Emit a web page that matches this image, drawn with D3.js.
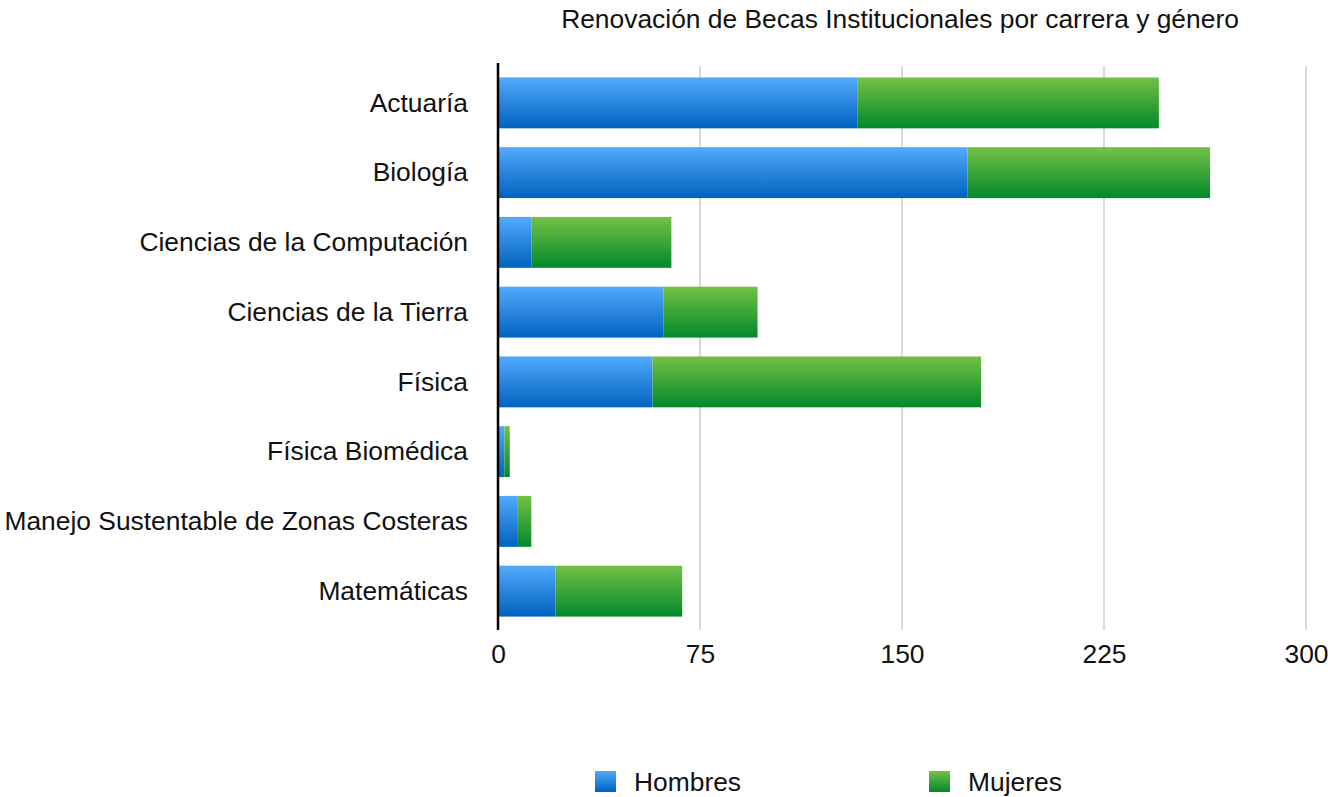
<!DOCTYPE html>
<html lang="en">
<head>
<meta charset="UTF-8">
<title>Renovación de Becas Institucionales</title>
<script src="https://d3js.org/d3.v7.min.js"></script>
<style>
  body { margin: 0; background: #fff; }
  text { font-family: "Liberation Sans", Arial, Helvetica, sans-serif; fill: #111; }
</style>
</head>
<body>
<script>
// data
var carreras = ["Actuaría", "Biología", "Ciencias de la Computación", "Ciencias de la Tierra",
  "Física", "Física Biomédica", "Manejo Sustentable de Zonas Costeras", "Matemáticas"];
var hombres = [133, 174, 12, 61, 57, 2, 7, 21];
var mujeres = [112, 90, 52, 35, 122, 2, 5, 47];
var series = ["Hombres", "Mujeres"];
var xTicks = [0, 75, 150, 225, 300];

var W = 1328, H = 797;
var margin = { top: 68, right: 22, bottom: 171, left: 498 };
var width = W - margin.left - margin.right;
var height = H - margin.top - margin.bottom;
var fontSize = "26.4px";

var svg = d3.select("body").append("svg")
  .attr("width", W).attr("height", H);

// gradients
var defs = svg.append("defs");
var grads = [
  { id: "g-h", top: "#52aafb", bottom: "#0062c1" },
  { id: "g-m", top: "#74c145", bottom: "#02892c" }
];
grads.forEach(function (g) {
  var lg = defs.append("linearGradient").attr("id", g.id)
    .attr("x1", 0).attr("y1", 0).attr("x2", 0).attr("y2", 1);
  lg.append("stop").attr("offset", "0%").attr("stop-color", g.top);
  lg.append("stop").attr("offset", "100%").attr("stop-color", g.bottom);
});

var g = svg.append("g").attr("transform", "translate(" + margin.left + "," + margin.top + ")");

var x = d3.scaleLinear().domain([0, 300]).range([0, 808]);
var y = d3.scaleBand().domain(carreras).range([0, height]).paddingInner(0.27).paddingOuter(0.135);

// title
svg.append("text")
  .attr("x", 900).attr("y", 28)
  .attr("text-anchor", "middle")
  .style("font-size", fontSize)
  .text("Renovación de Becas Institucionales por carrera y género");

// grid lines
g.selectAll(".grid").data(xTicks.slice(1)).enter().append("line")
  .attr("x1", d => x(d)).attr("x2", d => x(d))
  .attr("y1", -2).attr("y2", height + 4)
  .attr("stroke", "#d9d9d9").attr("stroke-width", 2);

// stacked data
var rows = carreras.map(function (c, i) { return { carrera: c, Hombres: hombres[i], Mujeres: mujeres[i] }; });
var stack = d3.stack().keys(series)(rows);
var fills = { Hombres: "url(#g-h)", Mujeres: "url(#g-m)" };

g.selectAll(".serie").data(stack).enter().append("g")
  .attr("fill", d => fills[d.key])
  .selectAll("rect").data(d => d).enter().append("rect")
  .attr("x", d => x(d[0]) + 1)
  .attr("y", d => y(d.data.carrera))
  .attr("width", d => x(d[1]) - x(d[0]))
  .attr("height", y.bandwidth());

// y axis line
g.append("line")
  .attr("x1", 0).attr("x2", 0).attr("y1", -5).attr("y2", height + 4)
  .attr("stroke", "#000").attr("stroke-width", 2.5);

// category labels
g.selectAll(".cat").data(carreras).enter().append("text")
  .attr("x", -30)
  .attr("y", d => y(d) + y.bandwidth() / 2)
  .attr("dy", "0.33em")
  .attr("text-anchor", "end")
  .style("font-size", fontSize)
  .text(d => d);

// x tick labels
var xAxis = g.append("g").attr("transform", "translate(0," + height + ")")
  .call(d3.axisBottom(x).tickValues(xTicks).tickSize(0).tickPadding(18).tickFormat(d3.format("d")));
xAxis.select(".domain").remove();
xAxis.selectAll("text").style("font-size", fontSize).attr("fill", "#111")
  .style("font-family", "\"Liberation Sans\", Arial, sans-serif");

// legend
var legend = svg.selectAll(".legend").data(series).enter().append("g")
  .attr("transform", (d, i) => "translate(" + (595 + i * 334) + ",771)");
legend.append("rect").attr("width", 21).attr("height", 21)
  .attr("fill", d => fills[d]);
legend.append("text").attr("x", 39).attr("y", 11).attr("dy", "0.35em")
  .style("font-size", fontSize).text(d => d);
</script>
</body>
</html>
